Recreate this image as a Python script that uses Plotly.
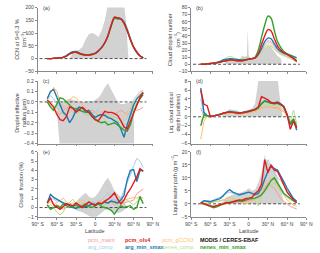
import plotly.graph_objects as go

W, H = 320, 253

LAT = [-75, -70, -65, -60, -55, -50, -45, -40, -35, -30, -25, -20, -15, -10, -5, 0,
       5, 10, 15, 20, 25, 30, 35, 40, 45, 50, 55, 60, 65, 70, 75]
ZERO_LAT = [-87, 80]
TICK_VALS = [-90, -60, -30, 0, 30, 60, 90]
TICK_TEXT = ["90° S", "60° S", "30° S", "0", "30° N", "60° N", "90° N"]

SERIES = ["pcm_maint", "pcm_ols4", "pcm_gCCN3", "arg_comp", "arg_min_smax", "nenes_comp", "nenes_min_smax"]
COLORS = {"pcm_maint": "#fb9a99", "pcm_ols4": "#e31a1c", "pcm_gCCN3": "#fdbf6f",
          "arg_comp": "#a6cee3", "arg_min_smax": "#1f78b4", "nenes_comp": "#b2df8a",
          "nenes_min_smax": "#33a02c"}
BOLD = ["pcm_ols4", "arg_min_smax", "nenes_min_smax"]
DRAW_ORDER = ["pcm_maint", "pcm_gCCN3", "arg_comp", "nenes_comp", "arg_min_smax", "nenes_min_smax", "pcm_ols4"]

# ---------------- (a) CCN at S=0.3 % ----------------
CCN_PCM_MAINT = [0, 0, 1, 2, 3, 5, 10, 18, 24, 25, 20, 16, 14, 14, 16, 20, 30, 43, 61, 88, 128, 160, 157, 156, 140, 110, 75, 45, 25, 10, 3]
CCN_PCM_OLS4 = [0, 0, 1, 2, 3, 5, 10, 18, 24, 25, 20, 16, 14, 14, 16, 20, 30, 43, 62, 90, 130, 163, 159, 157, 140, 110, 75, 45, 25, 10, 3]
CCN_PCM_GCCN3 = [0, 0, 1, 2, 3, 5, 10, 18, 24, 25, 20, 16, 14, 14, 16, 20, 30, 43, 62, 90, 131, 161, 158, 157, 142, 112, 76, 46, 25, 10, 3]
CCN_ARG_COMP = [0, 0, 1, 2, 3, 5, 10, 19, 25, 26, 21, 16, 14, 14, 16, 20, 30, 43, 62, 91, 131, 158, 160, 158, 150, 122, 82, 48, 27, 11, 3]
CCN_ARG_MIN_SMAX = [0, 0, 1, 2, 3, 6, 12, 21, 27, 28, 22, 17, 15, 15, 17, 21, 31, 44, 63, 92, 132, 160, 160, 155, 143, 112, 77, 46, 26, 11, 3]
CCN_NENES_COMP = [0, 0, 1, 2, 3, 5, 10, 18, 24, 25, 20, 16, 14, 14, 16, 20, 30, 43, 62, 89, 129, 159, 157, 155, 139, 109, 74, 44, 24, 10, 3]
CCN_NENES_MIN_SMAX = [0, 0, 1, 2, 3, 5, 10, 18, 24, 25, 20, 16, 14, 14, 16, 20, 30, 43, 62, 89, 128, 158, 155, 155, 138, 108, 74, 44, 24, 10, 3]
CCN_OBS_LAT = [-40, -35, -30, -25, -20, -15, -10, -5, 0, 5, 10, 15, 20, 25, 30, 35, 40, 45, 48, 50, 51, 52]
CCN_OBS_HI = [0, 25, 30, 35, 45, 75, 95, 100, 95, 85, 110, 150, 215, 215, 215, 215, 215, 215, 150, 62, 55, 0]

# ---------------- (b) Cloud droplet number ----------------
CDN_PCM_MAINT = [0, 0, 0.5, 1, 1.5, 2, 3, 4, 5, 6, 6, 5, 5, 5, 6, 7, 8, 9, 13, 20, 28, 33, 32, 26, 20, 16, 14, 12, 10, 7, 3]
CDN_PCM_OLS4 = [0, 0, 0.5, 1, 1.5, 2, 3, 4, 5, 6, 6, 5, 5, 5, 6, 7, 8, 9, 15, 28, 40, 49, 47, 36, 26, 20, 16, 14, 11, 8, 4]
CDN_PCM_GCCN3 = [0, 0, 0.5, 1, 1.5, 2, 3, 4, 5, 6, 6, 5, 5, 5, 6, 7, 7.5, 8.5, 12, 18, 24, 27, 27, 23, 18, 15, 13, 11, 9, 6, 3]
CDN_ARG_COMP = [0, 0, 0.5, 1, 1.5, 2, 3, 4.5, 5.5, 6.5, 6.5, 6, 5.5, 5.5, 6, 7, 8, 9, 13, 19, 26, 30, 30, 25, 20, 16, 14, 12, 10, 8, 5]
CDN_ARG_MIN_SMAX = [0, 0, 0.5, 1, 1.5, 2.5, 4, 6, 7, 8, 7.5, 7, 6.5, 6, 6.5, 7, 8, 9, 14, 22, 32, 37, 36, 29, 22, 18, 16, 14, 13, 11, 9]
CDN_NENES_COMP = [0, 0, 0.5, 1, 1.5, 2.5, 4, 6, 9, 11, 10, 7, 6, 8, 10, 9, 8, 8.5, 12, 17, 22, 25, 25, 21, 17, 14, 12, 10, 8, 6, 3]
CDN_NENES_MIN_SMAX = [0, 0, 0.5, 1, 1.5, 2, 3, 4, 5, 6, 6, 5.5, 5, 5, 6, 7, 8, 10, 20, 38, 55, 68, 65, 48, 32, 24, 18, 15, 12, 9, 5]
CDN_OBS_LAT = [-37, -35, -30, -25, -20, -15, -10, -5, -3, -1.5, 0, 2, 5, 10, 15, 20, 25, 30, 35, 40, 45, 50, 51, 51.5]
CDN_OBS_HI = [0, 5, 7, 8, 6, 6, 12, 10, 12, 49, 12, 9, 8, 8, 12, 18, 22, 25, 24, 18, 12, 8, 6, 0]

# ---------------- (c) Droplet effective radius ----------------
RE_PCM_MAINT = [0.0, -0.03, -0.06, -0.1, -0.12, -0.08, -0.06, -0.04, -0.08, -0.06, -0.05, -0.1, -0.12, -0.1, -0.08, -0.1, -0.12, -0.14, -0.12, -0.11, -0.1, -0.12, -0.1, -0.08, -0.1, -0.12, -0.1, -0.06, -0.08, -0.07, -0.05]
RE_PCM_OLS4 = [0.02, -0.02, -0.05, -0.12, -0.17, -0.18, -0.14, -0.05, -0.06, -0.1, -0.07, -0.05, -0.08, -0.1, -0.14, -0.17, -0.18, -0.13, -0.09, -0.1, -0.1, -0.11, -0.13, -0.18, -0.24, -0.26, -0.18, -0.1, -0.02, 0.04, 0.09]
RE_PCM_GCCN3 = [0.05, 0.08, 0.14, 0.1, 0.0, -0.05, -0.04, 0.02, 0.05, 0.04, 0.0, -0.03, -0.05, -0.08, -0.1, -0.1, -0.12, -0.1, -0.08, -0.12, -0.13, -0.15, -0.14, -0.12, -0.15, -0.1, -0.05, 0.0, 0.04, 0.08, 0.1]
RE_ARG_COMP = [0.02, 0.06, 0.03, -0.02, -0.05, -0.04, -0.08, -0.1, -0.07, -0.05, -0.08, -0.1, -0.12, -0.13, -0.11, -0.1, -0.08, -0.1, -0.12, -0.13, -0.12, -0.14, -0.16, -0.15, -0.18, -0.15, -0.08, 0.02, 0.06, 0.1, 0.11]
RE_ARG_MIN_SMAX = [0.03, 0.1, 0.12, 0.05, -0.03, -0.1, -0.13, -0.2, -0.15, -0.08, -0.05, -0.06, -0.09, -0.08, -0.12, -0.15, -0.13, -0.12, -0.13, -0.15, -0.16, -0.18, -0.2, -0.26, -0.34, -0.22, -0.12, -0.03, 0.03, 0.06, 0.09]
RE_NENES_COMP = [0.03, 0.0, -0.03, -0.06, -0.1, -0.12, -0.1, -0.07, -0.1, -0.12, -0.1, -0.08, -0.1, -0.12, -0.15, -0.14, -0.12, -0.15, -0.16, -0.14, -0.15, -0.17, -0.18, -0.2, -0.22, -0.2, -0.15, -0.05, 0.0, 0.05, 0.08]
RE_NENES_MIN_SMAX = [0.0, -0.05, -0.08, -0.02, 0.04, 0.03, 0.0, -0.03, -0.06, -0.07, -0.08, -0.09, -0.1, -0.1, -0.13, -0.17, -0.19, -0.2, -0.19, -0.22, -0.21, -0.2, -0.22, -0.25, -0.27, -0.28, -0.22, -0.1, -0.02, 0.03, 0.07]
RE_OBS_LAT = [-62, -60, -55, -50, -45, -40, -35, -30, -25, -20, -15, -10, -5, 0, 5, 10, 15, 20, 25, 30, 35, 40, 45, 50, 55, 60, 61]
RE_OBS_HI = [-0.02, -0.01, 0.0, 0.01, 0.02, 0.03, 0.02, 0.01, 0.0, 0.0, 0.0, 0.01, 0.0, 0.02, 0.04, 0.08, 0.14, 0.18, 0.12, 0.05, 0.0, -0.02, -0.02, -0.01, 0.0, 0.0, -0.45]
RE_OBS_LO = [-0.02, -0.1, -0.45, -0.45, -0.45, -0.45, -0.45, -0.45, -0.45, -0.45, -0.45, -0.45, -0.45, -0.45, -0.45, -0.45, -0.45, -0.45, -0.45, -0.45, -0.45, -0.45, -0.45, -0.45, -0.45, -0.45, -0.45]

# ---------------- (d) Liquid cloud optical depth ----------------
COD_PCM_MAINT = [2, 0, 0.2, 0.1, 0.2, 0.3, 0.4, 0.6, 0.8, 0.9, 0.8, 0.7, 0.6, 0.7, 0.8, 1.0, 1.1, 1.3, 1.6, 2.0, 2.2, 2.2, 2.1, 2.0, 2.0, 1.6, 1.2, 0.3, -1.0, -0.5, -1.5]
COD_PCM_OLS4 = [6, 2.8, 2.5, 0, 0.2, 0.3, 0.5, 0.8, 1.0, 1.1, 1.0, 0.9, 0.8, 0.9, 1.0, 1.2, 1.4, 1.6, 2.2, 4.5, 4.2, 3.8, 3.2, 3.0, 3.2, 2.8, 2.2, 0.5, -2.8, -1.0, -2.5]
COD_PCM_GCCN3 = [-5, -1, 0.1, 0.1, 0.2, 0.3, 0.4, 0.6, 0.8, 0.9, 0.8, 0.7, 0.6, 0.7, 0.8, 0.9, 1.0, 1.2, 1.5, 1.9, 2.1, 2.2, 2.0, 1.9, 1.8, 1.5, 1.1, 0.2, -1.5, -0.8, -2.0]
COD_ARG_COMP = [4, 0.5, 0.3, 0.1, 0.2, 0.4, 0.6, 0.9, 1.1, 1.2, 1.1, 1.0, 0.9, 1.0, 1.1, 1.3, 1.5, 1.7, 2.1, 2.8, 3.4, 3.3, 3.2, 3.2, 3.4, 3.0, 2.4, 0.6, -1.6, -0.6, -2.8]
COD_ARG_MIN_SMAX = [6.5, 1, 0.3, 0.1, 0.2, 0.4, 0.6, 0.9, 1.1, 1.2, 1.1, 1.0, 0.9, 1.0, 1.1, 1.3, 1.5, 1.7, 2.1, 3.0, 3.6, 3.3, 3.1, 3.1, 3.3, 2.9, 2.3, 0.5, -1.8, -0.5, -3.0]
COD_NENES_COMP = [-1, 0, 0.1, 0.1, 0.2, 0.3, 0.5, 0.7, 0.9, 1.0, 0.9, 0.8, 0.7, 0.8, 0.9, 1.1, 1.2, 1.4, 1.7, 2.3, 2.6, 2.6, 2.5, 2.4, 2.4, 2.1, 1.6, 0.3, -1.2, 1.5, -1.5]
COD_NENES_MIN_SMAX = [-2, 0.5, 0.2, 0.1, 0.2, 0.3, 0.5, 0.8, 1.0, 1.1, 1.0, 0.9, 0.8, 0.9, 1.0, 1.2, 1.4, 1.6, 2.0, 2.9, 3.5, 3.2, 3.0, 2.9, 3.0, 2.7, 2.1, 0.4, -1.5, -0.5, -2.2]
COD_OBS_LAT = [-42, -40, -35, -30, -25, -20, -15, -10, -5, 0, 5, 10, 12, 15, 20, 25, 30, 35, 40, 45, 48, 50, 52, 53]
COD_OBS_HI = [0, 0.5, 1.2, 1.7, 1.6, 1.5, 1.2, 1.0, 1.2, 1.5, 1.8, 3.0, 5.0, 8.0, 9, 9, 9, 9, 9, 9, 5, 3, 1, 0]

# ---------------- (e) Cloud fraction ----------------
CF_PCM_MAINT = [0.2, -0.2, 0.0, 0.3, 0.1, -0.2, 0.0, 0.3, 0.1, 0.0, 0.2, 0.4, 0.3, 0.1, 0.3, 0.5, 0.4, 0.6, 0.5, 0.4, 0.6, 0.3, 0.5, 0.4, 0.5, 0.6, 0.7, 0.8, 1.5, 1.8, 2.0]
CF_PCM_OLS4 = [0.5, 1.0, 0.3, 0.0, -0.2, 0.1, 0.4, 0.3, 0.2, 0.5, 0.2, 0.0, 0.3, 0.6, 0.4, 0.2, 0.5, 0.4, 0.7, 0.9, 1.2, 1.6, 0.9, 0.4, 0.8, 1.5, 2.0, 2.7, 3.3, 4.2, 3.9]
CF_PCM_GCCN3 = [0.4, 0.6, 0.3, 0.5, 0.8, 1.0, 0.6, 0.4, 0.5, 0.3, 0.6, 0.8, 0.5, 0.4, 0.6, 0.5, 0.7, 0.6, 0.8, 0.5, 0.6, 0.7, 0.5, 0.6, 0.8, 0.9, 1.0, 1.1, 1.0, 1.2, 1.0]
CF_ARG_COMP = [0.4, 1.0, 0.9, 0.7, 0.6, 0.5, 0.4, 0.3, 0.2, 0.1, 0.3, 0.2, 0.3, 0.4, 0.6, 0.5, 0.7, 0.8, 1.2, 1.6, 0.9, 0.8, 0.7, 1.0, 1.8, 2.8, 3.5, 4.5, 5.3, 5.0, 4.3]
CF_ARG_MIN_SMAX = [0.5, 1.4, 1.1, 0.9, 0.7, 0.5, 0.4, 0.2, 0.0, -0.1, 0.1, 0.0, 0.1, 0.2, 0.4, 0.3, 0.5, 0.4, 0.6, 0.5, 0.7, 0.6, 0.5, 0.8, 1.3, 3.0, 4.0, 4.1, 2.8, 4.0, 4.0]
CF_NENES_COMP = [0.0, 0.3, 0.0, -0.5, -0.8, -0.5, 0.2, 0.6, 0.9, 0.4, 0.1, 0.3, 0.5, 0.2, 0.0, 0.3, 0.5, 0.3, 0.2, 0.5, 0.7, 0.4, 0.3, 0.6, 0.4, 0.8, 0.5, 0.3, 0.6, 0.9, 0.7]
CF_NENES_MIN_SMAX = [0.3, -0.2, 0.0, 0.2, 0.0, 0.4, 0.2, 0.0, 0.1, 0.3, 0.0, 0.2, 0.4, 0.1, 0.0, 0.2, 0.4, 0.1, 0.0, -0.1, -0.3, -0.7, -0.2, 0.2, 0.0, 0.1, 0.2, -0.2, 0.0, 1.2, 0.4]
CF_OBS_LAT = [-35, -30, -25, -20, -15, -10, -5, 0, 5, 10, 15, 20, 25, 30, 35, 40, 45, 50]
CF_OBS_HI = [0, 0.6, 1.0, 1.3, 1.6, 1.2, 1.0, 1.2, 1.6, 2.2, 2.8, 3.2, 2.6, 1.8, 1.5, 1.2, 0.8, 0]
CF_OBS_LO = [0, -0.3, -0.4, -0.5, -0.7, -0.9, -1.1, -1.1, -0.8, -0.5, -0.3, -0.2, -0.3, -0.5, -0.6, -0.5, -0.3, 0]

# ---------------- (f) Liquid water path ----------------
LWP_PCM_MAINT = [0.0, -0.3, -0.6, -0.8, -1.0, -1.0, -0.6, -0.2, 0.2, 0.4, 0.3, 0.6, 0.8, 0.6, 1.0, 1.2, 1.5, 1.8, 2.2, 3.0, 6.0, 8.0, 7.0, 6.0, 4.0, 2.0, 1.0, 0.0, -1.0, -1.5, -2.0]
LWP_PCM_OLS4 = [0.5, 0.0, -0.5, -0.8, -1.0, -0.7, -0.3, 0.0, 0.5, 0.3, 0.8, 1.2, 1.5, 1.4, 2.0, 2.2, 2.5, 4.0, 5.0, 7.5, 17.0, 12.0, 15.0, 13.0, 12.5, 10.0, 7.0, 4.5, 3.0, 1.5, 0.5]
LWP_PCM_GCCN3 = [0.0, 0.2, 0.4, 0.5, 0.7, 0.8, 1.0, 1.5, 2.0, 2.5, 2.0, 1.5, 1.0, 0.5, 0.0, 0.3, 0.8, 1.5, 2.5, 4.0, 8.0, 9.0, 10.0, 9.0, 7.0, 5.0, 3.0, 1.5, 0.5, -0.5, -1.0]
LWP_ARG_COMP = [0.3, 1.0, 1.2, 1.0, 1.5, 2.0, 2.5, 3.5, 4.0, 4.5, 4.0, 3.5, 3.0, 3.5, 4.0, 4.5, 4.2, 4.0, 5.0, 7.0, 12.0, 17.0, 15.0, 12.0, 10.0, 9.0, 7.0, 5.0, 3.5, 2.0, 1.0]
LWP_ARG_MIN_SMAX = [0.3, 1.2, 1.0, 0.8, 1.2, 1.5, 2.0, 3.0, 4.5, 5.5, 4.5, 4.0, 3.5, 3.8, 4.2, 4.5, 4.0, 3.5, 4.0, 6.0, 9.5, 12.5, 14.5, 13.5, 13.0, 11.0, 8.5, 6.0, 4.0, 2.0, 1.0]
LWP_NENES_COMP = [0.2, 0.0, 0.2, 0.5, 0.8, 1.0, 1.2, 1.5, 1.2, 1.0, 1.3, 1.6, 1.4, 1.8, 2.0, 2.2, 2.5, 1.0, -0.8, 3.0, 5.0, 6.0, 7.0, 8.0, 6.5, 5.0, 3.5, 2.5, 1.5, 1.0, 0.5]
LWP_NENES_MIN_SMAX = [0.5, 0.0, -0.5, -1.0, -1.5, -1.2, -0.5, 0.0, 0.3, 0.5, 0.8, 1.0, 1.2, 1.0, 1.5, 1.8, 2.0, 2.2, 2.8, 3.5, 5.0, 7.0, 9.0, 10.0, 8.0, 6.0, 4.0, 3.0, 2.0, 1.2, 0.5]
LWP_OBS_LAT = [-45, -40, -35, -30, -25, -20, -15, -10, -5, 0, 5, 10, 15, 20, 23, 25, 27, 30, 35, 40, 45, 50, 55]
LWP_OBS_HI = [0, 1.0, 2.5, 3.0, 3.5, 3.5, 4.0, 4.5, 5.0, 6.0, 5.0, 5.5, 8, 12, 15, 19, 17, 16, 15, 14, 10, 6, 0]

PANELS = [
    dict(label="(a)", title="CCN at S=0.3 %<br>(cm<sup>−3</sup>)", rng=[-50, 200], dtick=50, fmt="",
         data=[CCN_PCM_MAINT, CCN_PCM_OLS4, CCN_PCM_GCCN3, CCN_ARG_COMP, CCN_ARG_MIN_SMAX, CCN_NENES_COMP, CCN_NENES_MIN_SMAX],
         obs=(CCN_OBS_LAT, CCN_OBS_HI, None), spline=True),
    dict(label="(b)", title="Cloud droplet number<br>(cm<sup>−3</sup>)", rng=[-10, 80], dtick=10, fmt="",
         data=[CDN_PCM_MAINT, CDN_PCM_OLS4, CDN_PCM_GCCN3, CDN_ARG_COMP, CDN_ARG_MIN_SMAX, CDN_NENES_COMP, CDN_NENES_MIN_SMAX],
         obs=(CDN_OBS_LAT, CDN_OBS_HI, None), spline=True),
    dict(label="(c)", title="Droplet effective<br>radius (μm)", rng=[-0.4, 0.2], dtick=0.1, fmt=".1f",
         data=[RE_PCM_MAINT, RE_PCM_OLS4, RE_PCM_GCCN3, RE_ARG_COMP, RE_ARG_MIN_SMAX, RE_NENES_COMP, RE_NENES_MIN_SMAX],
         obs=(RE_OBS_LAT, RE_OBS_HI, RE_OBS_LO), spline=False),
    dict(label="(d)", title="Liq. cloud optical<br>depth (unitless)", rng=[-6, 8], dtick=2, fmt="",
         data=[COD_PCM_MAINT, COD_PCM_OLS4, COD_PCM_GCCN3, COD_ARG_COMP, COD_ARG_MIN_SMAX, COD_NENES_COMP, COD_NENES_MIN_SMAX],
         obs=(COD_OBS_LAT, COD_OBS_HI, None), spline=False),
    dict(label="(e)", title="Cloud  fraction (%)", rng=[-1, 6], dtick=1, fmt="",
         data=[CF_PCM_MAINT, CF_PCM_OLS4, CF_PCM_GCCN3, CF_ARG_COMP, CF_ARG_MIN_SMAX, CF_NENES_COMP, CF_NENES_MIN_SMAX],
         obs=(CF_OBS_LAT, CF_OBS_HI, CF_OBS_LO), spline=False),
    dict(label="(f)", title="Liquid water path (g m<sup>−2</sup>)", rng=[-5, 20], dtick=5, fmt="",
         data=[LWP_PCM_MAINT, LWP_PCM_OLS4, LWP_PCM_GCCN3, LWP_ARG_COMP, LWP_ARG_MIN_SMAX, LWP_NENES_COMP, LWP_NENES_MIN_SMAX],
         obs=(LWP_OBS_LAT, LWP_OBS_HI, None), spline=False),
]

# layout geometry (pixels)
COL_X = [(33, 153), (193, 313)]
ROW_Y = [(4.7, 70), (80, 144), (152.5, 219)]

FONT = "Liberation Sans, Arial, sans-serif"
TXT = "#444444"
AX = "#8a8a8a"
GRAY = "#d2d2d2"


def px_x(p):
    return p / W


def px_y(p):
    return 1 - p / H


fig = go.Figure()
layout = dict(width=W, height=H, margin=dict(l=0, r=0, t=0, b=0),
              paper_bgcolor="white", plot_bgcolor="white", showlegend=False,
              font=dict(family=FONT, size=5, color=TXT))
annotations = []

for i, p in enumerate(PANELS):
    r, c = divmod(i, 2)
    n = i + 1
    xa = "x" if n == 1 else f"x{n}"
    ya = "y" if n == 1 else f"y{n}"
    x0, x1 = COL_X[c]
    ytop, ybot = ROW_Y[r]
    layout["xaxis" if n == 1 else f"xaxis{n}"] = dict(
        domain=[px_x(x0), px_x(x1)], range=[-90, 90], anchor=ya,
        tickvals=TICK_VALS, ticktext=TICK_TEXT, showticklabels=(r == 2),
        ticks="outside", ticklen=2, tickwidth=0.8, tickcolor=AX,
        showline=True, linecolor=AX, linewidth=0.8, showgrid=False, zeroline=False,
        tickfont=dict(size=5, color=TXT, family=FONT))
    layout["yaxis" if n == 1 else f"yaxis{n}"] = dict(
        domain=[px_y(ybot), px_y(ytop)], range=p["rng"], dtick=p["dtick"], tick0=0, anchor=xa,
        tickformat=p["fmt"], ticks="outside", ticklen=2, tickwidth=0.8, tickcolor=AX,
        showline=True, linecolor=AX, linewidth=0.8, showgrid=False, zeroline=False,
        tickfont=dict(size=5, color=TXT, family=FONT))

    olat, ohi, olo = p["obs"]
    if olo is None:
        fig.add_trace(go.Scatter(x=olat, y=ohi, xaxis=xa, yaxis=ya, mode="lines", fill="tozeroy",
                                 fillcolor=GRAY, line=dict(width=0, color=GRAY), hoverinfo="skip"))
    else:
        fig.add_trace(go.Scatter(x=olat, y=olo, xaxis=xa, yaxis=ya, mode="lines",
                                 line=dict(width=0, color=GRAY), hoverinfo="skip"))
        fig.add_trace(go.Scatter(x=olat, y=ohi, xaxis=xa, yaxis=ya, mode="lines", fill="tonexty",
                                 fillcolor=GRAY, line=dict(width=0, color=GRAY), hoverinfo="skip"))

    fig.add_trace(go.Scatter(x=ZERO_LAT, y=[0, 0], xaxis=xa, yaxis=ya, mode="lines",
                             line=dict(color="#222222", width=0.8, dash="3px,2px"), hoverinfo="skip"))

    series_vals = dict(zip(SERIES, p["data"]))
    for s in DRAW_ORDER:
        bold = s in BOLD
        fig.add_trace(go.Scatter(
            x=LAT, y=series_vals[s], xaxis=xa, yaxis=ya, mode="lines", name=s,
            line=dict(color=COLORS[s], width=1.4 if bold else 1.0,
                      shape="spline" if p["spline"] else "linear", smoothing=0.8)))

    # panel label
    annotations.append(dict(text=p["label"], x=px_x(x0 + 3), y=px_y(ytop), xref="paper", yref="paper",
                            xanchor="left", yanchor="middle", showarrow=False,
                            font=dict(size=5.5, color=TXT, family=FONT)))
    # y title
    two = "<br>" in p["title"]
    annotations.append(dict(text=p["title"], x=px_x(x0 - 18 if two else x0 - 17), y=px_y((ytop + ybot) / 2),
                            xref="paper", yref="paper", xanchor="center", yanchor="middle",
                            textangle=-90, showarrow=False,
                            font=dict(size=5.5, color=TXT, family=FONT)))
    if r == 2:
        annotations.append(dict(text="Latitude", x=px_x((x0 + x1) / 2), y=px_y(233.5),
                                xref="paper", yref="paper", xanchor="center", yanchor="middle",
                                showarrow=False, font=dict(size=5.5, color=TXT, family=FONT)))

# legend as coloured text
LEGEND_ROWS = [["pcm_maint", "pcm_ols4", "pcm_gCCN3", "MODIS / CERES-EBAF"],
               ["arg_comp", "arg_min_smax", "nenes_comp", "nenes_min_smax"]]
LEGEND_X = [83, 122, 161, 200]
LEGEND_Y = [242.7, 249.5]
for ri, row in enumerate(LEGEND_ROWS):
    for ci, name in enumerate(row):
        col = COLORS.get(name, "#111111")
        bold = name in BOLD or name.startswith("MODIS")
        annotations.append(dict(text=f"<b>{name}</b>" if bold else name,
                                x=px_x(LEGEND_X[ci]), y=px_y(LEGEND_Y[ri]), xref="paper", yref="paper",
                                xanchor="left", yanchor="middle", showarrow=False,
                                font=dict(size=5.5, color=col, family=FONT)))

layout["annotations"] = annotations
fig.update_layout(**layout)
fig.write_html("out.html", config={"displayModeBar": False},
               post_script="document.body.style.margin='0px';document.body.style.padding='0px';")
